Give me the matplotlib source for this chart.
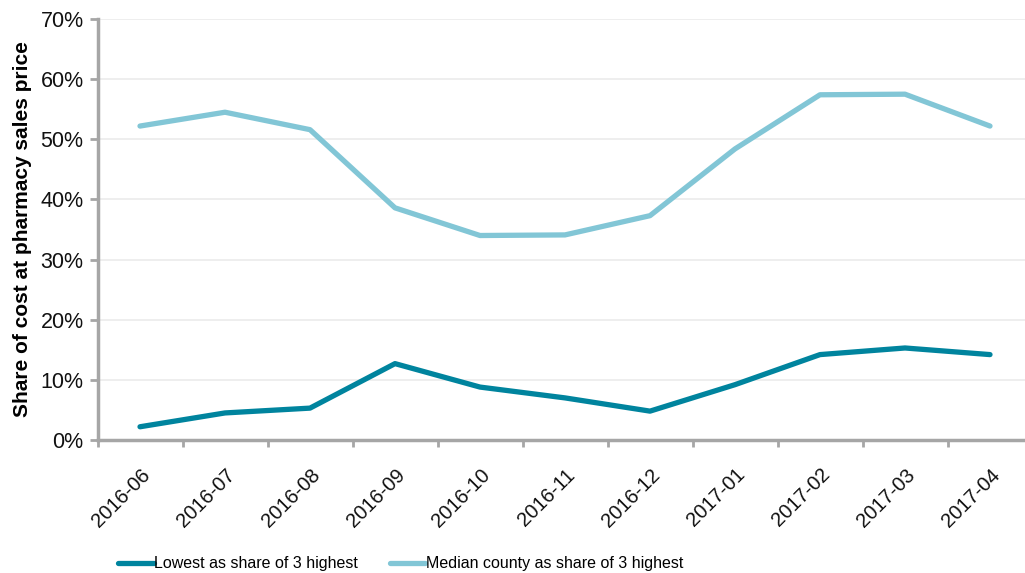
import matplotlib
matplotlib.use("Agg")
import matplotlib.pyplot as plt
import matplotlib.transforms as mtransforms
from matplotlib.ticker import PercentFormatter

months = ["2016-06", "2016-07", "2016-08", "2016-09", "2016-10", "2016-11",
          "2016-12", "2017-01", "2017-02", "2017-03", "2017-04"]
lowest = [2.2, 4.5, 5.3, 12.7, 8.8, 7.0, 4.8, 9.2, 14.2, 15.3, 14.2]
median = [52.2, 54.5, 51.6, 38.6, 34.0, 34.1, 37.3, 48.4, 57.4, 57.5, 52.2]

plt.rcParams['font.family'] = ['Liberation Sans', 'DejaVu Sans']

W, H = 1025, 573
fig = plt.figure(figsize=(W / 100, H / 100), dpi=100)
left, right, top, bottom = 97.5, 1032.5, 19, 440
ax = fig.add_axes([left / W, 1 - bottom / H, (right - left) / W, (bottom - top) / H])

x = list(range(len(months)))
c_dark = "#00849E"
c_light = "#82C6D6"
ax.plot(x, lowest, color=c_dark, lw=3.8, solid_capstyle='round', solid_joinstyle='round',
        label="Lowest as share of 3 highest", zorder=3)
ax.plot(x, median, color=c_light, lw=3.8, solid_capstyle='round', solid_joinstyle='round',
        label="Median county as share of 3 highest", zorder=3)

ax.set_xlim(-0.5, len(months) - 0.5)
ax.set_ylim(0, 70)
ax.set_yticks(range(0, 71, 10))
ax.yaxis.set_major_formatter(PercentFormatter(decimals=0))
ax.set_xticks(x)
ax.set_xticklabels(months, rotation=45, ha='right', rotation_mode='anchor', fontsize=14.5)
offset = mtransforms.ScaledTranslation(2 / 100, 0, fig.dpi_scale_trans)
for lab in ax.get_xticklabels():
    lab.set_transform(lab.get_transform() + offset)
ax.set_xticks([i - 0.5 for i in range(len(months) + 1)], minor=True)
ax.tick_params(axis='x', which='major', length=0, pad=18)
ax.tick_params(axis='x', which='minor', length=5, width=2, color='#A6A6A6')
ax.tick_params(axis='y', length=6, width=2, color='#A6A6A6', labelsize=15.5, pad=4,
               labelcolor='#111111')
ax.tick_params(axis='x', labelcolor='#111111')

ax.grid(axis='y', color='#EBEBEB', lw=1.2, zorder=0)
ax.set_axisbelow(True)
for s in ['top', 'right']:
    ax.spines[s].set_visible(False)
for s in ['left', 'bottom']:
    ax.spines[s].set_color('#A6A6A6')
    ax.spines[s].set_linewidth(2.5)

ax.set_ylabel("Share of cost at pharmacy sales price", fontsize=15, fontweight='bold', labelpad=6)

fig.legend(loc='lower left', bbox_to_anchor=(112 / W, -0.008), ncol=2, frameon=False,
           fontsize=11.5, handlelength=2.2, handletextpad=0.05, columnspacing=2.0,
           borderaxespad=0.0)

fig.savefig("out.png", dpi=100)
